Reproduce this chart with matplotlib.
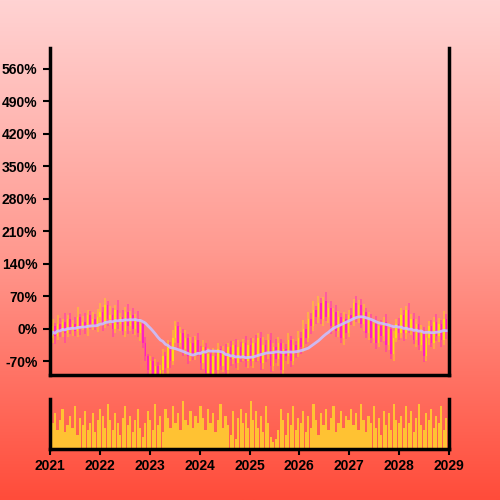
import numpy as np
import pandas as pd
import matplotlib
matplotlib.use("Agg")
from matplotlib import pyplot as plt
from matplotlib.colors import LinearSegmentedColormap
import matplotlib.dates as mdates

# closing values (% change), 20 per year from 2021 to 2028
closes = [
    -20, 5, -15, 10, -5, 15, -10, 20, 0, 10, -5, 25, 5, 15, 0, 30, 10, 20, 5, 25,
    35, 10, 50, 20, 30, 0, 40, 10, 25, -5, 35, 5, 30, 0, 20, -10, 10, -30, -60, -90,
    -70, -110, -80, -120, -90, -60, -85, -40, -70, -20, 5, -30, -10, -45, -20, -60, -30, -55, -25, -50,
    -75, -40, -95, -55, -110, -60, -90, -45, -80, -50, -90, -40, -65, -35, -75, -40, -60, -30, -70, -35,
    -70, -30, -60, -20, -75, -35, -55, -25, -80, -40, -65, -30, -90, -45, -60, -25, -70, -35, -50, -20,
    -40, 0, -20, 20, 5, 40, 25, 55, 20, 60, 25, 45, 5, 35, -5, 25, -20, 20, -10, 30,
    20, 55, 25, 50, 10, 35, -10, 20, -20, 10, -30, 5, -15, 15, -35, 0, -55, -20, 10, -10,
    30, -10, 40, 0, 20, -25, 10, -35, -5, -60, -20, 5, -30, 15, -15, 10, -25, 20, -10, 5,
]
upper_wick = [
    10, 15, 8, 20, 12, 6, 18, 10, 14, 9, 16, 22, 7, 12, 19, 10, 8, 15, 11, 17,
    20, 12, 15, 9, 18, 14, 10, 22, 8, 16, 12, 19, 9, 14, 11, 17, 10, 8, 12, 6,
    10, 8, 14, 9, 12, 16, 10, 15, 11, 18, 12, 9, 14, 10, 16, 8, 13, 11, 9, 15,
    12, 16, 9, 14, 10, 18, 11, 15, 8, 13, 17, 10, 14, 9, 12, 16, 11, 8, 15, 10,
    14, 9, 16, 11, 12, 18, 10, 13, 15, 9, 17, 11, 8, 14, 12, 16, 10, 13, 9, 15,
    12, 18, 10, 15, 14, 20, 9, 16, 12, 8, 18, 11, 14, 10, 16, 13, 9, 15, 12, 10,
    14, 9, 16, 11, 13, 18, 10, 15, 12, 9, 17, 11, 14, 10, 16, 12, 9, 15, 11, 13,
    15, 11, 9, 16, 12, 14, 10, 18, 13, 9, 15, 11, 14, 10, 16, 12, 9, 17, 11, 14,
]
lower_wick = [
    15, 10, 18, 9, 14, 12, 20, 8, 11, 16, 10, 13, 18, 9, 12, 15, 10, 14, 8, 12,
    10, 16, 9, 14, 12, 18, 10, 11, 15, 9, 13, 17, 10, 12, 14, 9, 16, 12, 10, 15,
    12, 10, 9, 14, 11, 16, 10, 13, 15, 9, 12, 18, 10, 14, 11, 16, 9, 13, 12, 10,
    14, 11, 9, 16, 10, 13, 12, 15, 9, 14, 10, 12, 16, 11, 9, 15, 13, 10, 12, 14,
    10, 15, 12, 9, 14, 11, 16, 10, 13, 12, 9, 15, 11, 14, 10, 16, 12, 9, 13, 11,
    15, 10, 13, 9, 16, 11, 14, 12, 10, 15, 9, 13, 16, 11, 12, 14, 10, 15, 12, 9,
    12, 15, 10, 13, 9, 16, 11, 14, 12, 10, 15, 9, 13, 11, 16, 12, 10, 14, 9, 15,
    11, 16, 12, 10, 14, 9, 15, 11, 13, 12, 10, 16, 9, 14, 11, 13, 15, 10, 12, 14,
]
volumes = [
    30, 55, 75, 40, 60, 85, 35, 50, 70, 45, 90, 30, 65, 50, 80, 40, 55, 75, 35, 60,
    85, 70, 45, 95, 60, 40, 75, 55, 30, 65, 90, 50, 70, 35, 60, 85, 45, 25, 55, 80,
    60, 40, 95, 50, 70, 35, 85, 65, 45, 90, 55, 75, 40, 100, 60, 50, 80, 45, 70, 55,
    90, 65, 40, 85, 55, 75, 35, 60, 95, 45, 70, 50, 30, 80, 20, 65, 85, 55, 75, 45,
    100, 60, 80, 45, 70, 35, 90, 55, 25, 15, 20, 40, 85, 60, 30, 75, 50, 90, 40, 65,
    55, 80, 35, 70, 45, 95, 60, 30, 75, 50, 85, 40, 65, 90, 35, 55, 80, 45, 70, 60,
    85, 50, 75, 40, 95, 60, 35, 70, 55, 90, 45, 65, 30, 80, 50, 75, 40, 95, 60, 55,
    70, 45, 90, 55, 80, 35, 65, 95, 50, 40, 75, 60, 85, 45, 70, 55, 90, 40, 65, 80,
]
y_ticks = [-70, 0, 70, 140, 210, 280, 350, 420, 490, 560]

dates = pd.date_range("2021-01-01", "2028-12-31", periods=len(closes))
df = pd.DataFrame({"close": closes, "up": upper_wick, "dn": lower_wick, "vol": volumes}, index=dates)
df["open"] = df["close"].shift(1).fillna(df["close"].iloc[0] + 10)
df["high"] = df[["open", "close"]].max(axis=1) + df["up"]
df["low"] = df[["open", "close"]].min(axis=1) - df["dn"]
df["ma"] = df["close"].rolling(20, min_periods=1).mean()

fig = plt.figure(figsize=(5, 5), dpi=100)

# gradient background
bg = fig.add_axes([0, 0, 1, 1], zorder=-10)
cmap = LinearSegmentedColormap.from_list("bg", ["#ffd3d3", "#ff9a90", "#ff4c3a"])
bg.imshow(np.linspace(0, 1, 256).reshape(-1, 1), aspect="auto", cmap=cmap, extent=[0, 1, 0, 1])
bg.axis("off")

ax = fig.add_axes([0.1, 0.25, 0.798, 0.654])
vax = fig.add_axes([0.1, 0.102, 0.798, 0.1], sharex=ax)
for a in (ax, vax):
    a.set_facecolor("none")
    a.spines["top"].set_visible(False)
    for s in ("left", "right", "bottom"):
        a.spines[s].set_linewidth(2.5)
        a.spines[s].set_color("black")

width = (dates[1] - dates[0]).days * 0.6
up = df["close"] >= df["open"]
colors = np.where(up, "#ffee00", "#ff10d0")
ax.vlines(df.index, df["low"], df["high"], colors=colors, alpha=0.45, linewidth=1.2)
ax.bar(df.index, (df["close"] - df["open"]).abs(), bottom=df[["open", "close"]].min(axis=1),
       width=width, color=colors, alpha=0.75, linewidth=0)
ax.plot(df.index, df["ma"], color="#c9c0ff", linewidth=2, alpha=0.9)

ax.set_ylim(-100, 605)
ax.set_yticks(y_ticks)
ax.set_yticklabels([f"{v}%" for v in y_ticks])
ax.tick_params(axis="x", bottom=False, labelbottom=False)
ax.tick_params(axis="y", length=5, width=1.5, labelsize=10, pad=4)

vax.bar(df.index, df["vol"], width=(dates[1] - dates[0]).days * 0.9, color="#ffc233", linewidth=0)
vax.set_ylim(0, 105)
vax.set_yticks([])
vax.set_xlim(pd.Timestamp("2021-01-01"), pd.Timestamp("2029-01-01"))
vax.xaxis.set_major_locator(mdates.YearLocator())
vax.xaxis.set_major_formatter(mdates.DateFormatter("%Y"))
vax.tick_params(axis="x", length=4, width=1.5, labelsize=10)

for lab in ax.get_yticklabels() + vax.get_xticklabels():
    lab.set_fontfamily("Liberation Sans")
    lab.set_fontweight("bold")

fig.savefig("out.png", dpi=100)
